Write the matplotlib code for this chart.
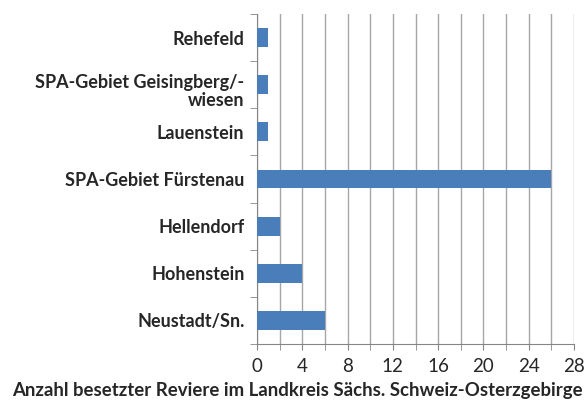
import matplotlib
matplotlib.use("Agg")
import matplotlib.pyplot as plt
import matplotlib.transforms as mtransforms
import numpy as np

categories = ["Rehefeld", "SPA-Gebiet Geisingberg/-\nwiesen", "Lauenstein",
              "SPA-Gebiet Fürstenau", "Hellendorf", "Hohenstein", "Neustadt/Sn."]
values = [1, 1, 1, 26, 2, 4, 6]
xticks = [0, 4, 8, 12, 16, 20, 24, 28]
xlabel = "Anzahl besetzter Reviere im Landkreis Sächs. Schweiz-Osterzgebirge"

plt.rcParams['font.family'] = ['Lato', 'DejaVu Sans']

fig = plt.figure(figsize=(5.87, 4.01), dpi=100)
ax = fig.add_axes([257/587, 1 - 344/401, (574-257)/587, (344-14)/401])

n = len(categories)
pos = np.arange(n)[::-1]
ax.barh(pos, values, height=0.4, color="#4a7ebb", zorder=3)

ax.set_xlim(0, 28)
ax.set_ylim(-0.5, n - 0.5)
ax.set_xticks(xticks)
ax.set_xticks(np.arange(0, 29, 2), minor=True)
ax.set_xticklabels([str(t) for t in xticks], fontsize=13.5, color="#262626")
ax.xaxis.grid(True, which='both', color="#a6a6a6", linewidth=1.0, zorder=0)

ax.set_yticks(pos)
ax.set_yticklabels(categories, fontsize=13, fontweight='bold',
                   linespacing=1.05, color="#262626")
ax.set_yticks(np.arange(-0.5, n, 1), minor=True)
ax.tick_params(axis='y', which='major', length=0, pad=9)
ax.tick_params(axis='y', which='minor', length=5, color="#868686")
ax.tick_params(axis='x', which='major', length=4, color="#868686", pad=6)
ax.tick_params(axis='x', which='minor', length=4, color="#868686")

for s in ['top', 'right']:
    ax.spines[s].set_visible(False)
for s in ['left', 'bottom']:
    ax.spines[s].set_color("#868686")

# two-line label sits slightly lower in the reference
for lbl in ax.get_yticklabels():
    if "\n" in lbl.get_text():
        lbl.set_transform(lbl.get_transform() +
                          mtransforms.ScaledTranslation(0, -5/100, fig.dpi_scale_trans))

fig.text((12 + 583) / 2 / 587, 1 - 396 / 401, xlabel, fontsize=13.4,
         fontweight='bold', ha='center', va='baseline', color="#262626")

fig.savefig("out.png", dpi=100)
